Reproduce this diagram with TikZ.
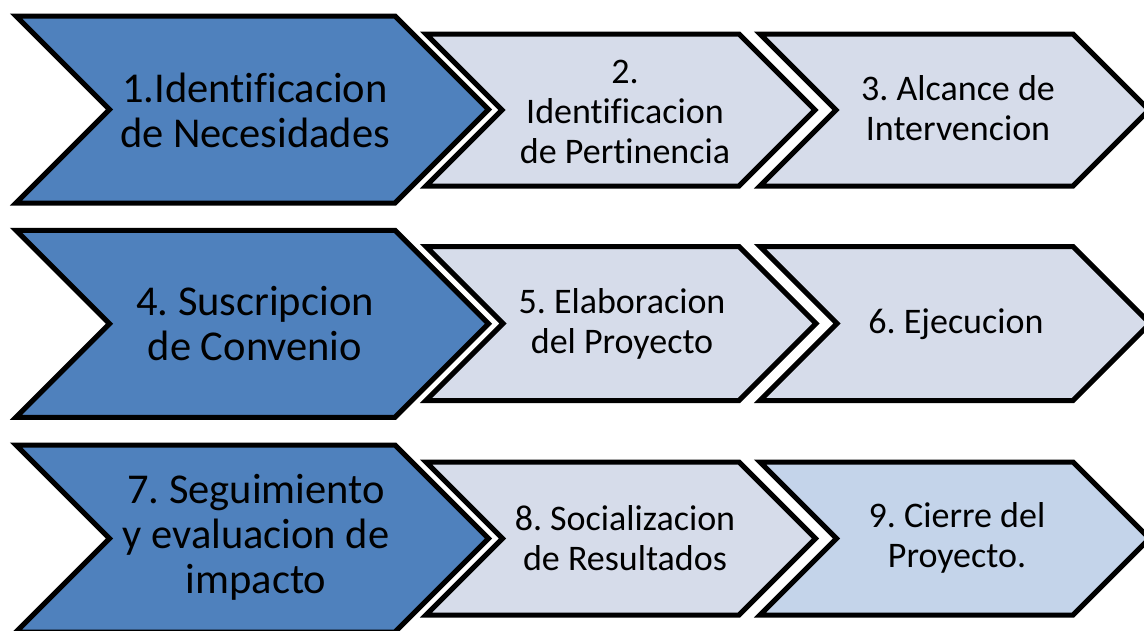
\documentclass[tikz,border=0pt]{standalone}
\usepackage{fontspec}
\setmainfont[Ligatures=NoCommon]{Carlito}
\frenchspacing
\definecolor{darkblue}{HTML}{4F81BD}
\definecolor{lightgray}{HTML}{D6DCEA}
\definecolor{lightblue}{HTML}{C4D4EA}
\tikzset{
  chevline/.style={draw=black,line width=5pt,line join=miter},
  bigtext/.style={align=center,font=\fontsize{42.5}{45}\selectfont,inner sep=0pt},
  smalltext/.style={align=center,font=\fontsize{36}{40}\selectfont,inner sep=0pt}
}
% #1 left x, #2 right(top-right) x, #3 mid y, #4 half height, #5 fill
\newcommand{\mychev}[5]{%
  \path[chevline,fill=#5] (#1,#3-#4) -- (#2,#3-#4) -- (#2+#4,#3) -- (#2,#3+#4)
    -- (#1,#3+#4) -- (#1+#4,#3) -- cycle;}
\begin{document}
\begin{tikzpicture}[x=1pt,y=-1pt]
\useasboundingbox (0,0) rectangle (1144,630);
\clip (0,0) rectangle (1144,630);
% row 1
\mychev{760}{1073}{110}{76}{lightgray}
\mychev{426}{739}{110}{76}{lightgray}
\mychev{16}{395}{109.5}{93.5}{darkblue}
\node[bigtext] (n1) at (255,110) {1.Identificacion\\de Necesidades};
\node[smalltext] (n2) at (625,112) {2.\\Identificacion\\de Pertinencia};
\node[smalltext] (n3) at (958,108) {3. Alcance de\\Intervencion};
% row 2
\mychev{760}{1073}{323.5}{77}{lightgray}
\mychev{426}{739}{323.5}{77}{lightgray}
\mychev{16}{395}{323.75}{93.5}{darkblue}
\node[bigtext] (n4) at (255,324) {4. Suscripcion\\de Convenio};
\node[smalltext] (n5) at (622,324) {5. Elaboracion\\del Proyecto};
\node[smalltext] (n6) at (956,324) {6. Ejecucion};
% row 3
\mychev{760}{1073}{538.5}{76.5}{lightblue}
\mychev{426}{739}{538.5}{76.5}{lightgray}
\mychev{16}{395}{538.5}{93.5}{darkblue}
\node[bigtext] (n7) at (256,537) {7. Seguimiento\\y evaluacion de\\impacto};
\node[smalltext] (n8) at (625,538) {8. Socializacion\\de Resultados};
\node[smalltext] (n9) at (957,538) {9. Cierre del\\Proyecto.};
\end{tikzpicture}
\end{document}
